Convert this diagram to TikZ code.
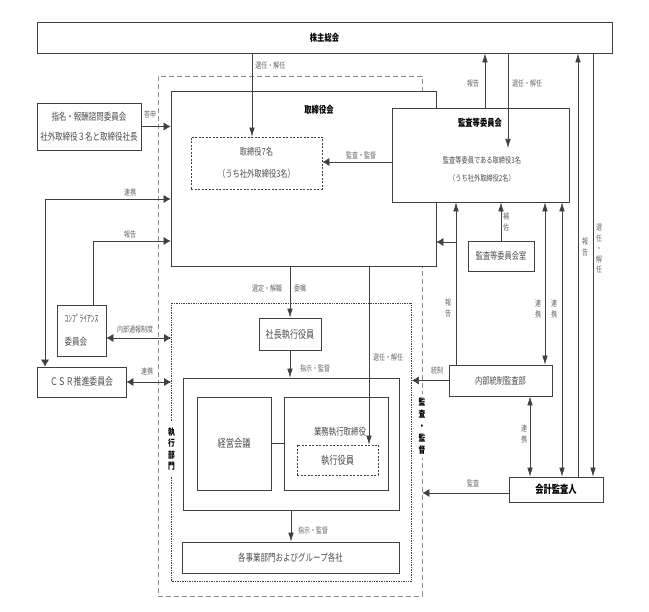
\documentclass[tikz,border=0pt]{standalone}
\usepackage{fontspec}
\setmainfont[FakeStretch=0.75]{Noto Sans CJK JP}
\usetikzlibrary{arrows.meta}

\begin{document}
\begin{tikzpicture}[x=1pt, y=-1pt, line width=0.6pt, draw=black!75,
    >={Latex[length=9pt,width=5.5pt]},
    wide/.style={>={Latex[length=7pt,width=8pt]}},
    box/.style={draw=black!75, line width=0.7pt, fill=white, inner sep=0pt,
        text=black!70, align=center, font=\fontsize{10}{20}\selectfont},
    dashbox/.style={box, dash pattern=on 2pt off 1.5pt},
    ttl/.style={text=black, font=\bfseries\fontsize{9.7}{12}\selectfont},
    lbl/.style={text=black!60, font=\fontsize{8}{9}\selectfont, inner sep=1pt},
    vlbl/.style={lbl, align=center, font=\fontsize{8}{10.5}\selectfont}]
    \useasboundingbox (0,0) rectangle (649,612);

    % frames of the company
    \node[draw=black!45, line width=0.8pt, dash pattern=on 5pt off 3pt,
        minimum width=264, minimum height=520, inner sep=0pt] (outer) at (290,336) {};
    \node[draw=black!75, densely dotted, line width=0.7pt,
        minimum width=240, minimum height=278, inner sep=0pt] (exec) at (291.5,442) {};

    % boxes
    \node[box, minimum width=575, minimum height=31] (gm) at (324.5,37.5) {};
    \node[ttl] (gmttl) at (324.5,37.5) {株主総会};

    \node[box, minimum width=265, minimum height=175] (board) at (303.5,178.5) {};
    \node[ttl] (boardttl) at (319,110) {取締役会};
    \node[dashbox, minimum width=131, minimum height=52,
        font=\fontsize{9.7}{22}\selectfont] (dirs) at (256.5,163)
        {取締役7名\\（うち社外取締役3名）};

    \node[box, minimum width=177, minimum height=94] (ac) at (480.5,155) {};
    \node[ttl] (acttl) at (480,123) {監査等委員会};
    \node[text=black!70, align=center, font=\fontsize{8.3}{18}\selectfont] (acmem)
        at (482,169) {監査等委員である取締役3名\\（うち社外取締役2名）};
    \node[box, minimum width=66, minimum height=30, font=\fontsize{9.6}{12}\selectfont]
        (acroom) at (501,256) {監査等委員会室};

    \node[box, minimum width=104, minimum height=47] (nom) at (89,126.5)
        {指名・報酬諮問委員会\\社外取締役３名と取締役社長};
    \node[box, minimum width=49, minimum height=51, align=left,
        font=\fontsize{10}{23}\selectfont] (comp) at (81.5,330.5) {ｺﾝﾌﾟﾗｲｱﾝｽ\\委員会};
    \node[box, minimum width=89, minimum height=30, font=\fontsize{10.5}{12}\selectfont]
        (csr) at (81.5,382) {ＣＳＲ推進委員会};

    \node[box, minimum width=62, minimum height=32, font=\fontsize{10.8}{12}\selectfont]
        (pres) at (290,334) {社長執行役員};
    \node[box, minimum width=216, minimum height=132] (mgmt) at (291,444) {};
    \node[box, minimum width=74, minimum height=93, font=\fontsize{11}{12}\selectfont]
        (mc) at (234,443.5) {経営会議};
    \node[box, minimum width=104, minimum height=93] (ed) at (336,443.5) {};
    \node[text=black!70, font=\fontsize{9.9}{12}\selectfont] (edttl) at (340,432) {業務執行取締役};
    \node[dashbox, minimum width=81, minimum height=30, font=\fontsize{11}{12}\selectfont]
        (eo) at (337.5,460) {執行役員};
    \node[box, minimum width=217, minimum height=31] (bu) at (290.5,557.5)
        {各事業部門およびグループ各社};

    \node[box, minimum width=103, minimum height=31, font=\fontsize{9.7}{12}\selectfont]
        (ia) at (500.5,380.5) {内部統制監査部};
    \node[box, ttl, minimum width=94, minimum height=25, font=\bfseries\fontsize{11}{12}\selectfont]
        (ea) at (556,489.5) {会計監査人};

    % labels sitting on the frames
    \node[ttl, fill=white, align=center, inner xsep=1pt, inner ysep=4pt,
        font=\bfseries\fontsize{9}{12}\selectfont] (auditlbl) at (422,426) {監\\査\\・\\監\\督};
    \node[ttl, fill=white, align=center, inner xsep=1pt, inner ysep=5pt,
        font=\bfseries\fontsize{9}{11.5}\selectfont] (execlbl) at (171.5,449) {執\\行\\部\\門};

    % where the connectors run
    \coordinate (xgmdir) at (252,0);
    \coordinate (ysup) at (0,162);
    \coordinate (xacrep) at (485,0);
    \coordinate (acin) at (508,148);
    \coordinate (csrturn) at (45,199);
    \coordinate (compturn) at (93,241);
    \coordinate (yhot) at (0,338);
    \coordinate (xeo) at (369,0);
    \coordinate (xrep) at (456,242);
    \coordinate (xiaac) at (545,0);
    \coordinate (xiaea) at (530,0);
    \coordinate (xacea) at (562,0);
    \coordinate (xeagm) at (578,0);
    \coordinate (xgmea) at (593,0);
    \coordinate (yaudit) at (0,493);

    % shareholders
    \draw[->] (xgmdir |- gm.south) -- (xgmdir |- dirs.north);
    \node[lbl, anchor=west] (l1) at (254,65) {選任・解任};
    \draw[->] (xacrep |- ac.north) -- (xacrep |- gm.south);
    \node[lbl] (l2) at (473,83) {報告};
    \draw[->] (acin |- gm.south) -- (acin);
    \node[lbl] (l3) at (527,83) {選任・解任};
    \draw[->] (xeagm |- ea.north) -- (xeagm |- gm.south);
    \node[vlbl] (l4) at (585,247) {報\\告};
    \draw[->] (xgmea |- gm.south) -- (xgmea |- ea.north);
    \node[vlbl] (l5) at (599,249) {選\\任\\・\\解\\任};

    % board and its committees
    \draw[wide,->] (ysup -| ac.west) -- (ysup -| dirs.east);
    \node[lbl] (l6) at (361,155) {監査・監督};
    \draw[wide,->] (nom.east) -- (nom.east -| board.west);
    \node[lbl] (l7) at (150,114) {答申};
    \draw[wide,<->] (csrturn |- csr.north) |- (csrturn -| board.west);
    \node[lbl] (l8) at (130,192) {連携};
    \draw[wide,->] (compturn |- comp.north) |- (compturn -| board.west);
    \node[lbl] (l9) at (130,234) {報告};
    \draw[wide,<->] (yhot -| comp.east) -- (yhot -| exec.west);
    \node[lbl] (l10) at (135,329) {内部通報制度};
    \draw[wide,<->] (csr.east) -- (csr.east -| exec.west);
    \node[lbl] (l11) at (147,371) {連携};

    % execution
    \draw[->] (pres.north |- board.south) -- (pres.north);
    \node[lbl] (l12) at (267,288) {選定・解職};
    \node[lbl] (l13) at (300,288) {委嘱};
    \draw[->] (pres.south) -- (pres.south |- mgmt.north);
    \node[lbl] (l14) at (315,368) {指示・監督};
    \draw[->] (xeo |- board.south) -- (xeo |- eo.north);
    \node[lbl] (l15) at (388,357) {選任・解任};
    \draw (mc.east) -- (ed.west);
    \draw[->] (mgmt.south) -- (mgmt.south |- bu.north);
    \node[lbl] (l16) at (313,530) {指示・監督};

    % audit side
    \draw[->] (xrep |- ia.north) -- (xrep |- ac.south);
    \draw[wide,->] (xrep) -- (xrep -| board.east);
    \node[vlbl] (l17) at (448,308) {報\\告};
    \draw[->] (acroom.north) -- (acroom.north |- ac.south);
    \node[vlbl] (l18) at (506,222) {補\\佐};
    \draw[<->] (xiaac |- ac.south) -- (xiaac |- ia.north);
    \node[vlbl] (l19) at (538,309) {連\\携};
    \draw[<->] (xacea |- ac.south) -- (xacea |- ea.north);
    \node[vlbl] (l20) at (554,309) {連\\携};
    \draw[<->] (xiaea |- ia.south) -- (xiaea |- ea.north);
    \node[vlbl] (l21) at (524,434) {連\\携};
    \draw[wide,->] (ia.west) -- (ia.west -| exec.east);
    \node[lbl] (l22) at (437,370) {統制};
    \draw[wide,->] (yaudit -| ea.west) -- (yaudit -| outer.east);
    \node[lbl] (l23) at (473,483) {監査};
\end{tikzpicture}
\end{document}
